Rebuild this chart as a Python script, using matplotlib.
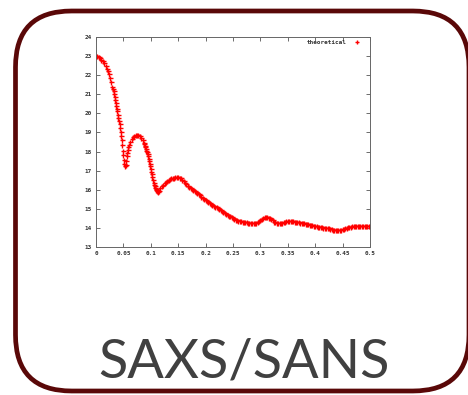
import matplotlib
matplotlib.use("Agg")
import matplotlib.pyplot as plt
from matplotlib.patches import FancyBboxPatch
from matplotlib.font_manager import FontProperties

# ---- data ----
q = [0.0000, 0.0025, 0.0050, 0.0075, 0.0100, 0.0125, 0.0150, 0.0175, 0.0200,
     0.022, 0.024, 0.026, 0.028,
     0.030, 0.031, 0.032, 0.033, 0.034, 0.035, 0.036, 0.037, 0.038, 0.039,
     0.040, 0.041, 0.042, 0.043, 0.044, 0.045, 0.046, 0.047, 0.048, 0.049,
     0.050, 0.051, 0.052, 0.053, 0.054, 0.055, 0.056, 0.057, 0.058, 0.059, 0.060,
     0.0625, 0.0650, 0.0675, 0.0700, 0.0725, 0.0750, 0.0775, 0.0800, 0.0825,
     0.0850, 0.0870,
     0.088, 0.089, 0.090, 0.091, 0.092, 0.093, 0.094, 0.095, 0.096, 0.097,
     0.098, 0.099, 0.100, 0.101, 0.102, 0.103, 0.104, 0.105, 0.106, 0.107,
     0.108, 0.109, 0.110, 0.111, 0.112, 0.113, 0.114, 0.115,
     0.1175, 0.1200, 0.1225, 0.1250, 0.1275, 0.1300, 0.1325, 0.1350, 0.1375,
     0.1400, 0.1425, 0.1450, 0.1475, 0.1500, 0.1525, 0.1550, 0.1575, 0.1600,
     0.1625, 0.1650, 0.1675, 0.1700, 0.1725, 0.1750, 0.1775, 0.1800, 0.1825,
     0.1850, 0.1875, 0.1900, 0.1925, 0.1950, 0.1975, 0.2000, 0.2025, 0.2050,
     0.2075, 0.2100, 0.2125, 0.2150, 0.2175, 0.2200, 0.2225, 0.2250, 0.2275,
     0.2300, 0.2325, 0.2350, 0.2375, 0.2400, 0.2425, 0.2450, 0.2475, 0.2500,
     0.2525, 0.2550, 0.2575, 0.2600, 0.2625, 0.2650, 0.2675, 0.2700, 0.2725,
     0.2750, 0.2775, 0.2800, 0.2825, 0.2850, 0.2875, 0.2900, 0.2925, 0.2950,
     0.2975, 0.3000, 0.3025, 0.3050, 0.3075, 0.3100, 0.3125, 0.3150, 0.3175,
     0.3200, 0.3225, 0.3250, 0.3275, 0.3300, 0.3325, 0.3350, 0.3375, 0.3400,
     0.3425, 0.3450, 0.3475, 0.3500, 0.3525, 0.3550, 0.3575, 0.3600, 0.3625,
     0.3650, 0.3675, 0.3700, 0.3725, 0.3750, 0.3775, 0.3800, 0.3825, 0.3850,
     0.3875, 0.3900, 0.3925, 0.3950, 0.3975, 0.4000, 0.4025, 0.4050, 0.4075,
     0.4100, 0.4125, 0.4150, 0.4175, 0.4200, 0.4225, 0.4250, 0.4275, 0.4300,
     0.4325, 0.4350, 0.4375, 0.4400, 0.4425, 0.4450, 0.4475, 0.4500, 0.4525,
     0.4550, 0.4575, 0.4600, 0.4625, 0.4650, 0.4675, 0.4700, 0.4725, 0.4750,
     0.4775, 0.4800, 0.4825, 0.4850, 0.4875, 0.4900, 0.4925, 0.4950, 0.4975,
     0.5000]
theoretical = [23.00, 22.99, 22.95, 22.89, 22.82, 22.73, 22.62, 22.50, 22.35,
               22.20, 22.04, 21.85, 21.64,
               21.40, 21.27, 21.15, 21.02, 20.88, 20.70, 20.55, 20.40, 20.25, 20.10,
               19.93, 19.77, 19.60, 19.43, 19.25, 19.05, 18.82, 18.58, 18.32, 18.05,
               17.80, 17.55, 17.35, 17.22, 17.28, 17.50, 17.75, 17.95, 18.10, 18.22, 18.32,
               18.52, 18.67, 18.77, 18.83, 18.87, 18.88, 18.87, 18.82, 18.73,
               18.60, 18.47,
               18.39, 18.30, 18.22, 18.14, 18.05, 17.96, 17.86, 17.75, 17.62, 17.48,
               17.35, 17.22, 17.08, 16.94, 16.80, 16.65, 16.50, 16.37, 16.26, 16.17,
               16.10, 16.04, 16.00, 15.96, 15.92, 15.90, 15.91, 15.95,
               16.07, 16.18, 16.27, 16.33, 16.38, 16.44, 16.50, 16.55, 16.59,
               16.62, 16.64, 16.66, 16.66, 16.65, 16.63, 16.60, 16.53, 16.45,
               16.37, 16.30, 16.22, 16.15, 16.08, 16.02, 15.97, 15.92, 15.87,
               15.82, 15.76, 15.70, 15.64, 15.58, 15.51, 15.45, 15.40, 15.35,
               15.30, 15.25, 15.20, 15.15, 15.11, 15.07, 15.02, 14.98, 14.94,
               14.90, 14.85, 14.80, 14.75, 14.70, 14.65, 14.60, 14.55, 14.50,
               14.46, 14.43, 14.40, 14.38, 14.36, 14.35, 14.33, 14.32, 14.31,
               14.30, 14.28, 14.27, 14.26, 14.25, 14.24, 14.25, 14.27, 14.30,
               14.36, 14.42, 14.47, 14.52, 14.55, 14.56, 14.55, 14.53, 14.50,
               14.45, 14.39, 14.33, 14.29, 14.26, 14.25, 14.25, 14.26, 14.28,
               14.30, 14.32, 14.34, 14.35, 14.35, 14.35, 14.35, 14.34, 14.33,
               14.32, 14.31, 14.30, 14.28, 14.27, 14.25, 14.24, 14.22, 14.20,
               14.18, 14.17, 14.15, 14.13, 14.11, 14.10, 14.08, 14.06, 14.05,
               14.04, 14.03, 14.02, 14.01, 14.00, 13.98, 13.97, 13.95, 13.93,
               13.91, 13.90, 13.88, 13.87, 13.87, 13.88, 13.90, 13.92, 13.95,
               13.97, 14.00, 14.03, 14.05, 14.07, 14.08, 14.09, 14.10, 14.10,
               14.10, 14.10, 14.10, 14.10, 14.10, 14.10, 14.10, 14.10, 14.10,
               14.10]
x_ticks = [0, 0.05, 0.1, 0.15, 0.2, 0.25, 0.3, 0.35, 0.4, 0.45, 0.5]
x_tick_labels = ["0", "0.05", "0.1", "0.15", "0.2", "0.25", "0.3", "0.35", "0.4", "0.45", "0.5"]
y_ticks = list(range(13, 25))
y_tick_labels = [str(v) for v in y_ticks]
series_label = "theoretical"
title_text = "SAXS/SANS"

W, H = 468, 395
fig = plt.figure(figsize=(W / 100, H / 100), dpi=100)
fig.patch.set_facecolor("white")

# rounded card border
card = FancyBboxPatch((15.5 / W, 1 - 391 / H), (469 - 15.5) / W, (391 - 11) / H,
                      boxstyle="round,pad=0,rounding_size=0.12",
                      transform=fig.transFigure, facecolor="none",
                      edgecolor="#5a0808", linewidth=3.4, mutation_aspect=W / H)
fig.patches.append(card)

ax = fig.add_axes([96 / W, 1 - 247 / H, (370 - 96) / W, (247 - 37) / H])
ax.plot(q, theoretical, linestyle="none", marker="+", markersize=3.6,
        markeredgewidth=1.0, color="#ff0000", label=series_label)
ax.set_xlim(0, 0.5)
ax.set_ylim(13, 24)
ax.set_xticks(x_ticks)
ax.set_xticklabels(x_tick_labels)
ax.set_yticks(y_ticks)
ax.set_yticklabels(y_tick_labels)
tick_font = dict(family="DejaVu Sans Mono", weight="bold", size=4.3)
for lab in ax.get_xticklabels() + ax.get_yticklabels():
    lab.set_fontproperties(FontProperties(**tick_font))
    lab.set_color("#333333")
ax.tick_params(direction="in", length=3, width=0.6, color="#555555",
               top=True, right=True, pad=3)
for s in ax.spines.values():
    s.set_color("#666666")
    s.set_linewidth(0.7)

leg = ax.legend(loc="upper right", bbox_to_anchor=(0.982, 1.012), frameon=False,
                markerfirst=False, prop=FontProperties(**tick_font), markerscale=0.9,
                handlelength=0.8, handletextpad=1.4, borderaxespad=0.5)
for t in leg.get_texts():
    t.set_color("#333333")

fig.text(244 / W, 1 - 377 / H, title_text, ha="center", va="baseline",
         fontsize=39, family="Lato", color="#404040")

fig.savefig("out.png", dpi=100)
